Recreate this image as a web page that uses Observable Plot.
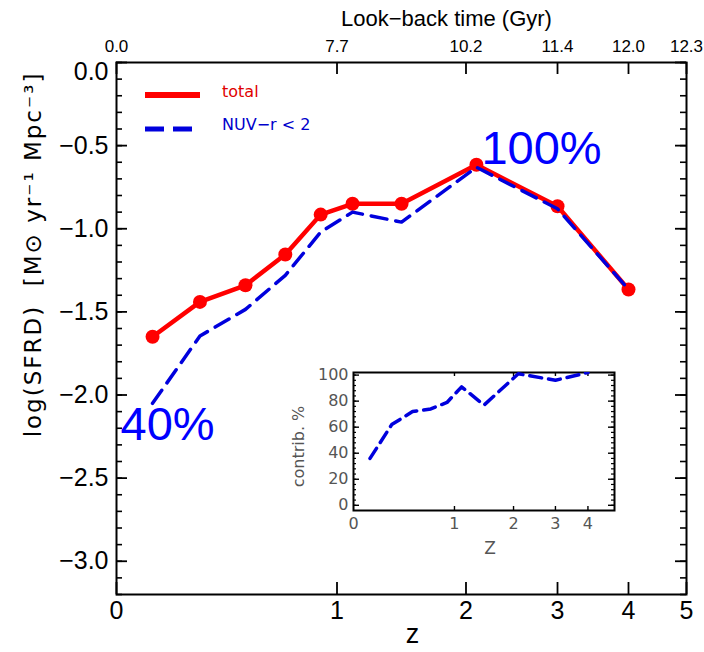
<!DOCTYPE html>
<html><head><meta charset="utf-8">
<script src="https://cdn.jsdelivr.net/npm/d3@7"></script>
<script src="https://cdn.jsdelivr.net/npm/@observablehq/plot@0.6"></script>
<style>
body{margin:0;background:#fff;}
#wrap{position:relative;width:704px;height:652px;}
#inset{position:absolute;left:290px;top:362px;}
</style></head><body><div id="wrap"><div id="main"></div><div id="inset"></div></div>
<script>
// ---- data ----
const z = [0.12, 0.3, 0.5, 0.7, 0.9, 1.1, 1.45, 2.1, 3.0, 4.0];
const total = [-1.65, -1.44, -1.34, -1.155, -0.915, -0.85, -0.85, -0.615, -0.865, -1.365];
const nuvR = [-2.05, -1.645, -1.485, -1.28, -1.02, -0.90, -0.96, -0.63, -0.88, -1.365];
const contrib = [36, 62, 72, 74, 79, 91, 77, 101, 96, 102];
const zTicks = [0, 1, 2, 3, 4, 5];
const lookback = ["0.0", "7.7", "10.2", "11.4", "12.0", "12.3"];
const yMajor = [0, -0.5, -1, -1.5, -2, -2.5, -3];
const yMinor = d3.range(0, 33).map(i => -i / 10);
const insetYMajor = [0, 20, 40, 60, 80, 100];
const insetYMinor = d3.range(0, 26).map(i => i * 4);
const insetZTicks = [1, 2, 3, 4];
const seriesNames = ["total", "NUV−r < 2"];
const annotations = [{i: 7, label: "100%"}, {i: 0, label: "40%"}];

const rows = z.map((zz, i) => ({z: zz, total: total[i], nuv: nuvR[i], contrib: contrib[i]}));
const RED = "#ff0000", BLUE = "#0000dd", TXTBLUE = "#0000ff";
const minus = s => s.replace("-", "\u2212");

// ---- main plot ----
const W = 704, H = 652, mL = 116, mR = 18, mT = 62, mB = 58;
const fw = W - mL - mR, fh = H - mT - mB;
const X = d => 1 + d.z;
const main = Plot.plot({
  width: W, height: H, marginLeft: mL, marginRight: mR, marginTop: mT, marginBottom: mB,
  style: {fontFamily: "'Liberation Sans', sans-serif", background: "white", color: "black"},
  x: {type: "log", domain: [1, 6], label: null},
  y: {domain: [-3.2, 0], label: null},
  marks: [
    Plot.tickY(yMinor, {y: d => d, insetRight: fw - 6, stroke: "black", strokeWidth: 1.6}),
    Plot.tickY(yMinor, {y: d => d, insetLeft: fw - 6, stroke: "black", strokeWidth: 1.6}),
    Plot.tickY(yMajor, {y: d => d, insetRight: fw - 11, stroke: "black", strokeWidth: 1.8}),
    Plot.tickY(yMajor, {y: d => d, insetLeft: fw - 11, stroke: "black", strokeWidth: 1.8}),
    Plot.tickX(zTicks, {x: d => 1 + d, insetTop: fh - 12, stroke: "black", strokeWidth: 1.8}),
    Plot.tickX(zTicks, {x: d => 1 + d, insetBottom: fh - 12, stroke: "black", strokeWidth: 1.8}),
    Plot.frame({stroke: "black", strokeWidth: 2}),
    Plot.axisY(yMajor.filter(d => d !== 0), {tickSize: 0, tickPadding: 8, fontSize: 25, label: null, tickFormat: d => minus(d.toFixed(1))}),
    Plot.axisY([0], {tickSize: 0, tickPadding: 8, fontSize: 25, dy: 9, label: null, tickFormat: d => d.toFixed(1)}),
    Plot.axisX(zTicks.map(d => 1 + d), {anchor: "bottom", tickSize: 0, tickPadding: 7, fontSize: 25, label: null, tickFormat: d => String(Math.round(d - 1))}),
    Plot.axisX(zTicks.map(d => 1 + d), {anchor: "top", tickSize: 0, tickPadding: 11, fontSize: 17, label: null, tickFormat: d => lookback[Math.round(d - 1)]}),
    Plot.text(["Look\u2212back time (Gyr)"], {frameAnchor: "top", lineAnchor: "middle", textAnchor: "middle", dx: 45, dy: -44, fontSize: 22}),
    Plot.text(["z"], {frameAnchor: "bottom", lineAnchor: "middle", textAnchor: "middle", dx: 11, dy: 40, fontSize: 27}),
    Plot.text(["log(SFRD)  [M\u2299 yr\u207B\u00B9 Mpc\u207B\u00B3]"], {frameAnchor: "left", textAnchor: "middle", lineAnchor: "middle", rotate: -90, dx: -83, dy: -74, fontSize: 23, fontFamily: "'DejaVu Sans', sans-serif"}),
    Plot.line(rows, {x: X, y: "total", stroke: RED, strokeWidth: 4.5}),
    Plot.dot(rows, {x: X, y: "total", r: 7, fill: RED}),
    Plot.line(rows, {x: X, y: "nuv", stroke: BLUE, strokeWidth: 3.5, strokeDasharray: "16,9"}),
    Plot.text([annotations[0]], {x: d => 1 + z[d.i], y: d => nuvR[d.i], text: "label", textAnchor: "start", lineAnchor: "bottom", dx: 5, dy: -3, fontSize: 47, fill: TXTBLUE}),
    Plot.text([annotations[1]], {x: d => 1 + z[d.i], y: d => nuvR[d.i], text: "label", textAnchor: "start", lineAnchor: "bottom", dx: -32, dy: 37, fontSize: 47, fill: TXTBLUE})
  ]
});
document.getElementById("main").appendChild(main);
// letter-spacing on the axis title
d3.select(main).selectAll("text").filter(function() { return this.textContent.startsWith("log(SFRD)"); }).attr("letter-spacing", 2).style("white-space", "pre");

// legend
const lg = d3.select(main).append("g").attr("font-family", "'DejaVu Sans', sans-serif").attr("font-size", 16).attr("text-anchor", "start");
lg.append("line").attr("x1", 145).attr("x2", 200).attr("y1", 95).attr("y2", 95).attr("stroke", RED).attr("stroke-width", 6);
lg.append("text").attr("x", 222).attr("y", 91).attr("dy", "0.35em").attr("fill", "#e00000").text(seriesNames[0]);
lg.append("line").attr("x1", 145).attr("x2", 192).attr("y1", 129).attr("y2", 129).attr("stroke", BLUE).attr("stroke-width", 5).attr("stroke-dasharray", "19,9");
lg.append("text").attr("x", 222).attr("y", 124).attr("dy", "0.35em").attr("fill", "#0000cc").text(seriesNames[1]);

// ---- inset ----
const iW = 335, iH = 200, iL = 63, iR = 11, iT = 10, iB = 52;
const ifw = iW - iL - iR, ifh = iH - iT - iB;
const inset = Plot.plot({
  width: iW, height: iH, marginLeft: iL, marginRight: iR, marginTop: iT, marginBottom: iB,
  style: {fontFamily: "'DejaVu Sans', sans-serif", background: "transparent", color: "#555"},
  x: {type: "log", domain: [1, 6], label: null},
  y: {domain: [-4, 102], label: null},
  marks: [
    Plot.frame({fill: "white"}),
    Plot.tickY(insetYMinor, {y: d => d, insetRight: ifw - 3, stroke: "black", strokeWidth: 1.2}),
    Plot.tickY(insetYMinor, {y: d => d, insetLeft: ifw - 3, stroke: "black", strokeWidth: 1.2}),
    Plot.tickY(insetYMajor, {y: d => d, insetRight: ifw - 6, stroke: "black", strokeWidth: 1.4}),
    Plot.tickY(insetYMajor, {y: d => d, insetLeft: ifw - 6, stroke: "black", strokeWidth: 1.4}),
    Plot.tickX(insetZTicks, {x: d => 1 + d, insetTop: ifh - 4, stroke: "black", strokeWidth: 1.4}),
    Plot.tickX(insetZTicks, {x: d => 1 + d, insetBottom: ifh - 4, stroke: "black", strokeWidth: 1.4}),
    Plot.frame({stroke: "black", strokeWidth: 2}),
    Plot.axisY(insetYMajor, {tickSize: 0, tickPadding: 5, fontSize: 16, label: null}),
    Plot.axisX(zTicks.map(d => 1 + d), {anchor: "bottom", tickSize: 0, tickPadding: 7, fontSize: 16, label: null, tickFormat: d => String(Math.round(d - 1))}),
    Plot.text(["Z"], {frameAnchor: "bottom", lineAnchor: "middle", textAnchor: "middle", dx: 6, dy: 38, fontSize: 17}),
    Plot.text(["contrib. %"], {frameAnchor: "left", textAnchor: "middle", lineAnchor: "middle", rotate: -90, dx: -55, dy: 5, fontSize: 16}),
    Plot.line(rows, {x: X, y: "contrib", stroke: BLUE, strokeWidth: 3.5, strokeDasharray: "12,7", clip: true})
  ]
});
document.getElementById("inset").appendChild(inset);
</script>
</body></html>
